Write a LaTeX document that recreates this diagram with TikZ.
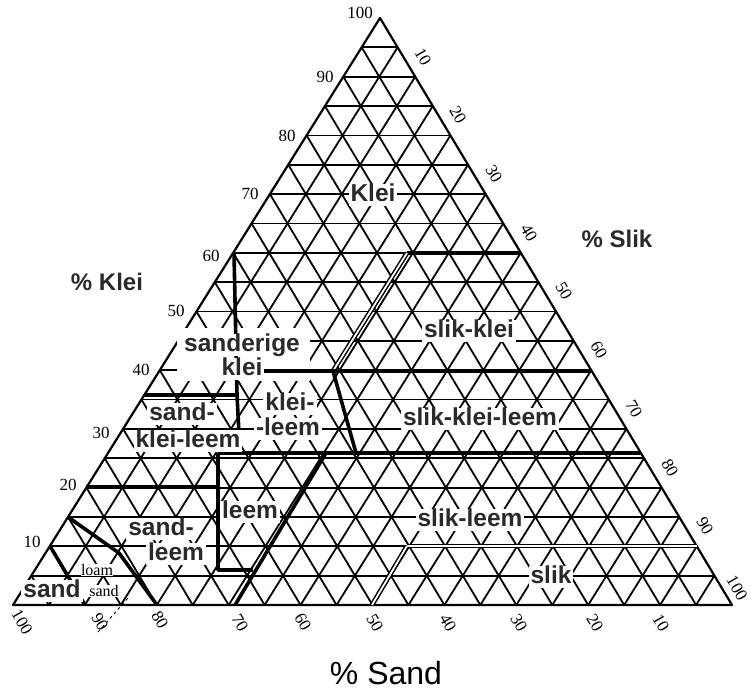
\documentclass[tikz,border=0pt]{standalone}
\usepackage{fontspec}
\setmainfont{Liberation Serif}
\setsansfont{Liberation Sans}
\usetikzlibrary{calc}
\definecolor{ink}{HTML}{2A2A2A}
\begin{document}
\begin{tikzpicture}[x=1pt,y=-1pt,
  gridline/.style={line width=1.8pt, black},
  edge/.style={line width=2.2pt, black, line join=round},
  bound/.style={line width=3.6pt, black, line join=round},
  dbound/.style={double, line width=1.5pt, double distance=1.8pt, black},
  num/.style={font=\fontsize{17}{17}\selectfont, inner sep=0pt},
  reg/.style={font=\sffamily\bfseries\fontsize{24.5}{25}\selectfont, text=ink, fill=white,
              inner xsep=2pt, inner ysep=1pt, text height=16pt, text depth=4pt},
  small/.style={font=\fontsize{16}{16}\selectfont, fill=white, inner sep=0.5pt},
  ax/.style={font=\sffamily\bfseries\fontsize{24}{24}\selectfont, text=ink},
]
\useasboundingbox[fill=white] (0,0) rectangle (751,691);
\coordinate (A) at (13,605);
\coordinate (B) at (732,605);
\coordinate (T) at (380,18);
% grid
\foreach \k in {1,...,19} {
  \pgfmathsetmacro\t{\k/20}
  \draw[gridline] ($(A)!\t!(T)$) -- ($(B)!\t!(T)$);
  \draw[gridline] ($(A)!\t!(B)$) -- ($(A)!\t!(T)$);
  \draw[gridline] ($(A)!\t!(B)$) -- ($(T)!\t!(B)$);
}
\draw[edge] (A) -- (B) -- (T) -- cycle;
% white areas behind labels
\fill[white] (177,328) rectangle (310,381);
% class boundaries
\draw[bound] (234,253) -- (237,395);
\draw[bound] (144,395) -- (238,395);
\draw[bound] (407,253) -- (521,253);
\draw[dbound] (407,253) -- (333,371);
\draw[bound] (236,371) -- (591,371);
\draw[bound] (333,371) -- (356,453);
\draw[bound] (237,395) -- (240,453);
\draw[bound] (218,453) -- (641,453);
\draw[bound] (218,453) -- (218,570) -- (253,570);
\draw[bound] (235,605) -- (326,453);
\draw[dbound] (407,546) -- (697,546);
\draw[dbound] (372,605) -- (407,546);
\draw[bound] (86,487) -- (218,487);
\draw[bound] (68,517) -- (119,553) -- (157,605);
\draw[bound] (50,546) -- (85,605);
\draw[line width=0.8pt, dashed] (98,632) -- (128,598);
% region labels
\node[reg] (lklei) at (373,195) {Klei};
\node[reg] (lsk) at (469,331) {slik-klei};
\node[reg] (lskl) at (480,419) {slik-klei-leem};
\node[reg] (lsan1) at (242,345) {sanderige};
\node[reg] (lsan2) at (242,369) {klei};
\node[reg] (lkl1) at (290,404) {klei-};
\node[reg] (lkl2) at (288,429) {-leem};
\node[reg] (lskl1) at (182,414) {sand-};
\node[reg] (lskl2) at (188,441) {klei-leem};
\node[reg] (lsl1) at (161,529) {sand-};
\node[reg] (lsl2) at (176,554) {leem};
\node[reg] (lleem) at (250,512) {leem};
\node[reg] (lsilo) at (470,520) {slik-leem};
\node[reg] (lslik) at (551,577) {slik};
\node[reg] (lsand) at (52,591) {sand};
\node[small] (lloam) at (97,570) {loam};
\node[small] (lls) at (104,591) {sand};
% axis titles
\node[ax] (tklei) at (107,282) {\% Klei};
\node[ax] (tslik) at (617,239) {\% Slik};
\node[font=\sffamily\fontsize{32}{32}\selectfont] (tsand) at (386,673) {\% Sand};
% clay numbers (left)
\foreach \v/\px/\py in {100/360/13, 90/325/77, 80/287/136, 70/250/194, 60/211/256, 50/176/311, 40/141/370, 30/101/433, 20/68/485, 10/32/542}
  \node[num] at (\px,\py) {\v};
% silt numbers (right)
\foreach \v/\px/\py in {10/423/57, 20/458/115, 30/494/174, 40/529/233, 50/564/291, 60/599/350, 70/634/409, 80/670/468, 90/705/526, 100/737/588}
  \node[num, rotate=-60] at (\px,\py) {\v};
% sand numbers (bottom)
\foreach \v/\px/\py in {100/22/622, 90/100/622, 80/160/620, 70/240/623, 60/303/622, 50/375/623, 40/448/623, 30/519/623, 20/595/623, 10/661/623}
  \node[num, rotate=-60] at (\px,\py) {\v};
\end{tikzpicture}
\end{document}
